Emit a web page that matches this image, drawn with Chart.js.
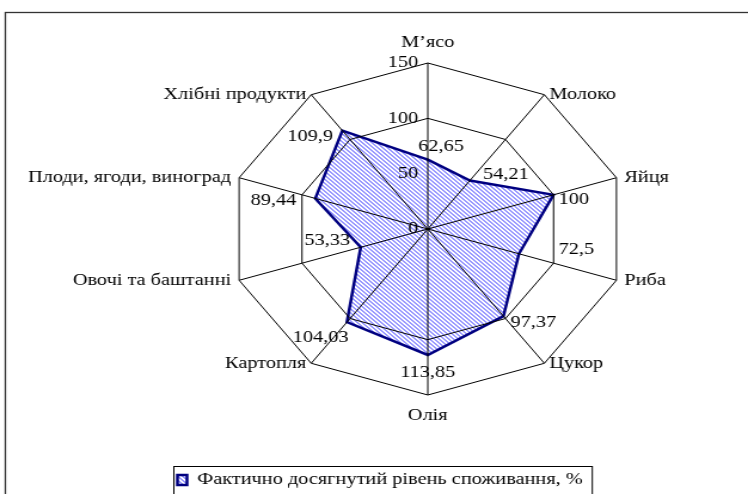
<!DOCTYPE html>
<html>
<head>
<meta charset="utf-8">
<script src="https://cdn.jsdelivr.net/npm/chart.js@4.4.1/dist/chart.umd.min.js"></script>
<style>
  html, body { margin: 0; padding: 0; background: #fff; }
  #chart { display: block; }
</style>
</head>
<body>
<!-- the original picture is stretched sideways, so the canvas is too -->
<canvas id="chart" width="626" height="494" style="width:748px;height:494px"></canvas>
<script>
const categories = ["М’ясо", "Молоко", "Яйця", "Риба", "Цукор", "Олія", "Картопля",
    "Овочі та баштанні", "Плоди, ягоди, виноград", "Хлібні продукти"];
const consumption = [62.65, 54.21, 100, 72.5, 97.37, 113.85, 104.03, 53.33, 89.44, 109.9];
const seriesName = "Фактично досягнутий рівень споживання, %";
const tickValues = [0, 50, 100, 150];
const ringValues = [100, 150];   // only these rings are drawn in the original

// where each value label sits, relative to its point (canvas px)
const valueLabelShift = [[11, -13], [30, -6], [17, 5], [48, -4], [25, 6],
    [0, 18], [-22, 15], [-28, -7], [-35, 2], [-27, 6]];

const FONT = "'Liberation Serif', 'Times New Roman', serif";
const FONT_SIZE = 17;

// keeps the radius the chart area gives, even when labels reach past it
class FixedRadialScale extends Chart.RadialLinearScale {
    setCenterPoint() {}

    fit() {
        super.fit();
        // side labels level with their corner, like Excel does
        (this._pointLabelItems || []).forEach((item, i) => {
            const deg = Math.round(this.getIndexAngle(i) * 180 / Math.PI);
            if (deg === 0 || deg === 180) return;
            const h = item.bottom - item.top;
            const cornerY = this.getPointPosition(i, this.drawingArea).y;
            item.y = item.top = cornerY - h / 2;
            item.bottom = item.top + h;
        });
    }
}
FixedRadialScale.id = "fixedRadial";
Chart.register(FixedRadialScale);

function stripes() {
    const size = 4;
    const tile = document.createElement("canvas");
    tile.width = tile.height = size;
    const c = tile.getContext("2d");
    c.fillStyle = "#ffffff";
    c.fillRect(0, 0, size, size);
    c.fillStyle = "#9999ff";
    for (let y = 0; y < size; y++) {
        for (let x = 0; x < size; x++) {
            if ((x - y + size) % size < 2) c.fillRect(x, y, 1, 1);
        }
    }
    return c.createPattern(tile, "repeat");
}

function fmt(v) {
    return String(v).replace(".", ",");
}

const framePlugin = {
    id: "frame",
    beforeDraw(chart) {
        const ctx = chart.ctx;
        ctx.save();
        ctx.strokeStyle = "#333";
        ctx.lineWidth = 1.3;
        ctx.strokeRect(4.5, 12.5, chart.width + 20, chart.height + 20);
        ctx.restore();
    },
    afterDraw(chart) {
        const hb = chart.legend && chart.legend.legendHitBoxes[0];
        if (!hb) return;
        const ctx = chart.ctx;
        ctx.save();
        ctx.strokeStyle = "#000";
        ctx.lineWidth = 1;
        ctx.strokeRect(Math.round(hb.left - 4) + 0.5, Math.round(hb.top - 6) + 0.5, hb.width + 11, hb.height + 30);
        ctx.restore();
    }
};

const textPlugin = {
    id: "texts",
    afterDraw(chart) {
        const ctx = chart.ctx;
        const s = chart.scales.r;
        ctx.save();
        ctx.font = FONT_SIZE + "px " + FONT;
        ctx.fillStyle = "#000";
        ctx.textBaseline = "middle";

        ctx.textAlign = "right";
        s.ticks.forEach(t => {
            ctx.fillText(String(t.value), s.xCenter - 8, s.yCenter - s.getDistanceFromCenterForValue(t.value));
        });

        ctx.textAlign = "center";
        chart.getDatasetMeta(0).data.forEach((pt, i) => {
            const [dx, dy] = valueLabelShift[i];
            ctx.fillText(fmt(consumption[i]), pt.x + dx, pt.y + dy);
        });
        ctx.restore();
    }
};

new Chart(document.getElementById("chart"), {
    type: "radar",
    data: {
        labels: categories,
        datasets: [{
            label: seriesName,
            data: consumption,
            backgroundColor: stripes(),
            borderColor: "#000080",
            borderWidth: 2.5,
            pointRadius: 0,
            fill: true
        }]
    },
    options: {
        responsive: false,
        devicePixelRatio: 1,
        animation: false,
        layout: { padding: { left: 90, right: 0, top: 63, bottom: -4.5 } },
        plugins: {
            legend: {
                position: "bottom",
                align: "start",
                // empty title only pushes the item down
                title: { display: true, text: "", font: { size: 10 }, padding: 3 },
                labels: {
                    font: { family: FONT, size: FONT_SIZE },
                    color: "#000",
                    boxWidth: 8,
                    boxHeight: 10,
                    padding: 58.5
                }
            },
            tooltip: { enabled: false }
        },
        scales: {
            r: {
                type: "fixedRadial",
                min: tickValues[0],
                max: tickValues[tickValues.length - 1],
                ticks: { display: false, stepSize: tickValues[1] - tickValues[0] },
                grid: {
                    color: c => (c.tick && ringValues.includes(c.tick.value)) ? "#000" : "rgba(0,0,0,0)",
                    lineWidth: 1,
                    z: 1
                },
                angleLines: { color: "#000", lineWidth: 1 },
                pointLabels: {
                    font: { family: FONT, size: FONT_SIZE },
                    color: "#000",
                    padding: ctx => (ctx.index === 0 || ctx.index === 5) ? 10 : 7
                }
            }
        }
    },
    plugins: [framePlugin, textPlugin]
});
</script>
</body>
</html>
